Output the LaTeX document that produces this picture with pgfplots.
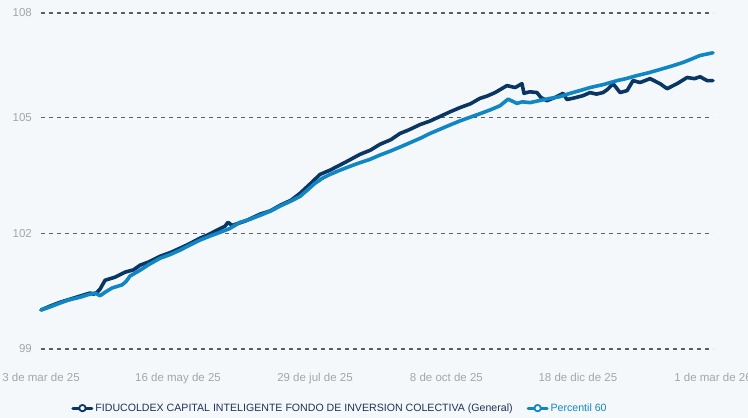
\documentclass[border=0pt]{standalone}
\usepackage{fontspec}
\setmainfont{Liberation Sans}
\usepackage{pgfplots}
\pgfplotsset{compat=1.18}
\definecolor{BgColor}{RGB}{245,248,251}
\definecolor{FundColor}{RGB}{10,54,100}
\definecolor{PctColor}{RGB}{16,135,196}
\definecolor{GridColor}{RGB}{95,95,95}
\definecolor{TickColor}{RGB}{165,165,165}
\definecolor{LegFund}{RGB}{30,50,85}

% x = days since 3 de mar de 25
\pgfplotstableread{
d v
0 100.01
4.9 100.11
10.3 100.21
15.7 100.29
21.1 100.37
26.5 100.45
28.5 100.42
30.3 100.47
31.9 100.55
34.6 100.78
40.0 100.86
45.4 100.99
50.0 101.05
53.5 101.17
58.0 101.25
64.3 101.40
70.0 101.50
75.1 101.61
80.0 101.72
85.9 101.87
90.0 101.95
94.0 102.05
99.4 102.18
101.0 102.28
103.2 102.20
110.2 102.31
118.3 102.49
124.0 102.58
129.1 102.72
135.0 102.85
139.9 103.03
146.4 103.32
150.7 103.52
156.1 103.63
164.2 103.83
172.3 104.04
178.0 104.15
183.1 104.30
189.0 104.42
193.9 104.58
199.0 104.68
204.7 104.81
210.0 104.90
215.5 105.02
220.9 105.14
226.3 105.25
232.0 105.35
237.1 105.49
241.0 105.55
245.3 105.64
251.7 105.82
256.1 105.77
259.8 105.87
260.9 105.62
264.0 105.66
267.9 105.64
270.1 105.51
273.3 105.43
278.0 105.52
282.0 105.62
284.1 105.46
288.0 105.50
292.8 105.56
296.6 105.64
300.0 105.60
303.6 105.64
306.0 105.72
309.0 105.87
312.8 105.64
316.6 105.69
319.8 105.95
323.6 105.90
329.0 106.00
334.4 105.87
338.2 105.74
343.6 105.87
349.0 106.03
353.0 106.00
356.0 106.05
359.8 105.95
363 105.95
}\fundtable

\pgfplotstableread{
d v
0 100.01
4.9 100.09
10.3 100.19
15.0 100.27
21.1 100.34
25.0 100.40
29.2 100.45
31.9 100.38
34.6 100.47
38.4 100.58
43.8 100.66
46.0 100.75
48.1 100.89
53.5 101.04
58.0 101.18
64.3 101.35
70.0 101.45
75.1 101.56
80.0 101.68
85.9 101.82
91.0 101.92
96.7 102.02
102.0 102.12
107.5 102.28
113.0 102.36
118.3 102.46
124.0 102.57
129.1 102.70
135.0 102.83
139.9 102.95
144.0 103.12
148.0 103.29
152.0 103.42
156.1 103.52
161.0 103.62
166.9 103.73
172.0 103.82
177.7 103.91
183.0 104.02
188.5 104.12
194.0 104.23
199.3 104.34
205.0 104.46
210.1 104.58
215.0 104.68
220.9 104.80
226.0 104.90
231.7 105.00
237.0 105.09
242.6 105.19
248.0 105.30
252.3 105.47
257.1 105.36
260.0 105.40
264.2 105.38
270.0 105.44
275.0 105.49
280.0 105.53
285.8 105.62
291.0 105.69
296.6 105.77
304.0 105.85
311.2 105.95
316.0 106.00
321.9 106.08
328.0 106.15
336.0 106.26
341.0 106.33
346.8 106.42
351.0 106.50
356.0 106.60
359.0 106.63
363 106.67
}\pcttable

\begin{document}
\begin{tikzpicture}[x=1pt,y=1pt]
\fill[BgColor] (0,0) rectangle (748,418);
\useasboundingbox (0,0) rectangle (748,418);
\begin{axis}[
    at={(41pt,69pt)}, anchor=south west,
    scale only axis, width=672pt, height=336pt,
    xmin=0, xmax=363, ymin=99, ymax=107.7,
    clip=false,
    axis line style={draw=none}, tick style={draw=none},
    ymajorgrids, xmajorgrids=false,
    grid style={GridColor, line width=1.2pt, dash pattern=on 4pt off 4pt},
    ytick={99,102,105,107.7}, yticklabels={99,102,105,108},
    xtick={0,74,148,219,290,363},
    xticklabels={3 de mar de 25,16 de may de 25,29 de jul de 25,8 de oct de 25,18 de dic de 25,1 de mar de 26},
    ticklabel style={font=\fontsize{11.5}{13}\selectfont, text=TickColor, inner sep=0pt},
    yticklabel style={anchor=east, xshift=-9pt},
    xticklabel style={anchor=base, yshift=-32pt},
    legend style={at={(axis description cs:0.445,-0.176)}, anchor=center,
        draw=none, fill=none, legend columns=2,
        font=\fontsize{10.6}{12}\selectfont,
        /tikz/every even column/.append style={column sep=12pt}},
    legend cell align=left,
    legend image code/.code={
        \draw[#1, line width=3pt] (0pt,0pt) -- (19pt,0pt);
        \draw[#1, line width=1.8pt, fill=white] (9.5pt,0pt) circle (3.2pt);
    },
]
\addplot[FundColor, line width=3.6pt, line join=round, line cap=round] table[x=d, y=v] {\fundtable};
\addlegendentry{\textcolor{LegFund}{FIDUCOLDEX CAPITAL INTELIGENTE FONDO DE INVERSION COLECTIVA (General)}}
\addplot[PctColor, line width=3.6pt, line join=round, line cap=round] table[x=d, y=v] {\pcttable};
\addlegendentry{\textcolor{PctColor}{Percentil 60}}
\end{axis}
\end{tikzpicture}
\end{document}
